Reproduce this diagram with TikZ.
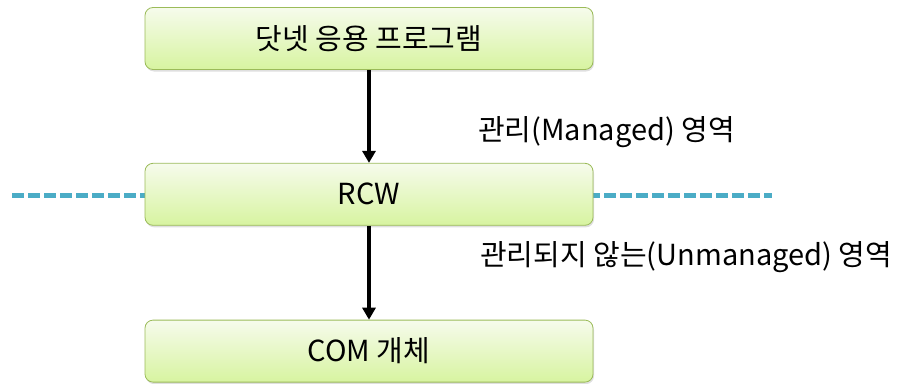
\documentclass[tikz,border=0pt]{standalone}
\usepackage{fontspec}
\setmainfont{Noto Sans CJK KR}
\usetikzlibrary{arrows.meta, positioning, shadows}
\definecolor{boxline}{RGB}{155,187,89}
\definecolor{boxtop}{RGB}{246,251,236}
\definecolor{boxbottom}{RGB}{215,244,160}
\definecolor{border}{RGB}{75,172,198}

\begin{document}
\begin{tikzpicture}[
    x=1pt, y=-1pt,
    font=\fontsize{29}{34}\selectfont,
    block/.style={rectangle, draw=boxline, thick, top color=boxtop, bottom color=boxbottom, rounded corners=8pt, minimum width=448pt, minimum height=62pt, drop shadow={opacity=0.25, shadow xshift=1pt, shadow yshift=-2pt}},
    line/.style={draw, line width=3.5pt, -{Triangle[length=12pt, width=13pt]}},
    boundary/.style={draw=border, line width=5pt, dash pattern=on 12pt off 4pt}
]
    \useasboundingbox (0,0) rectangle (902,383);

    % Boundary between the two areas (behind the boxes)
    \coordinate (bleft) at (12,195);
    \coordinate (bright) at (772,195);
    \draw [boundary] (bleft) -- (bright);

    % Nodes
    \node (dotnet) [block] at (369,38.5) {닷넷 응용 프로그램};
    \node (rcw) [block, below=93pt of dotnet] {RCW};
    \node (com) [block, below=94pt of rcw] {COM 개체};

    % Area labels
    \node (managed) [anchor=west, inner sep=0pt] at (478,132) {관리(Managed) 영역};
    \node (unmanaged) [anchor=west, inner sep=0pt] at (480,257) {관리되지 않는(Unmanaged) 영역};

    % Calls
    \path [line] (dotnet) -- (rcw);
    \path [line] (rcw) -- (com);

\end{tikzpicture}
\end{document}
